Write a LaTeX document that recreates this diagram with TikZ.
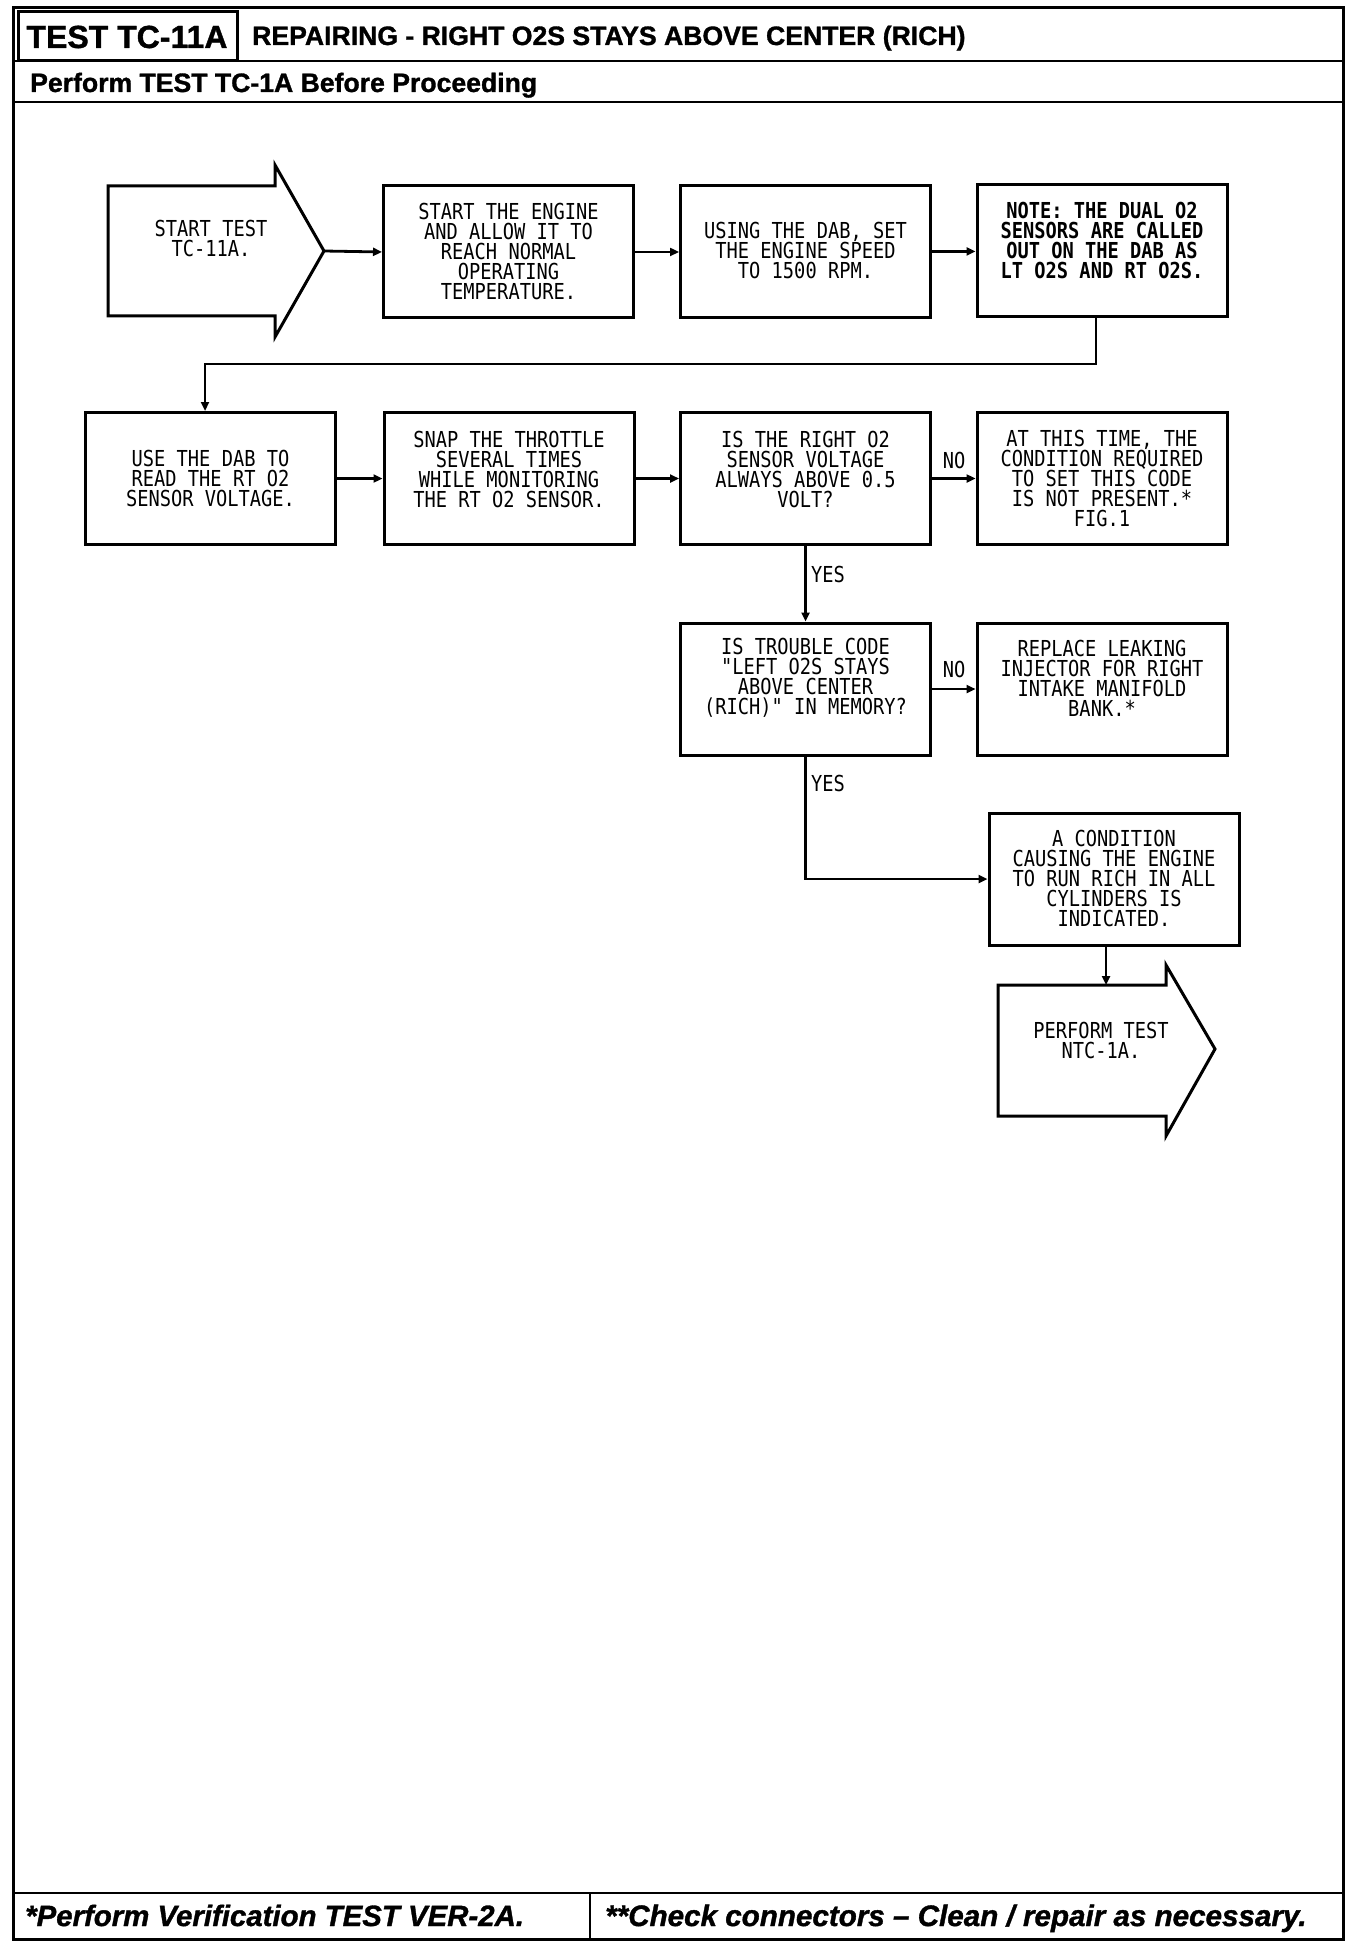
\documentclass[tikz,border=0pt]{standalone}
\usepackage{fontspec}
\setmainfont{Liberation Sans}
\newfontfamily\hdrfont[FakeBold=1.2]{Liberation Sans Bold}
\newfontfamily\hdrit[FakeBold=1.2]{Liberation Sans Bold Italic}
\newfontfamily\plotfont[FakeStretch=0.85]{DejaVu Sans Mono}
\usetikzlibrary{arrows.meta}
\begin{document}
\begin{tikzpicture}[x=1pt,y=-1pt,
  box/.style={draw, line width=3pt, minimum width=250pt, minimum height=132pt, inner sep=0pt},
  txt/.style={font=\plotfont\fontsize{22}{20}\selectfont, align=center, inner sep=0pt},
  lbl/.style={font=\plotfont\fontsize{22}{20}\selectfont, inner sep=0pt},
  conn/.style={line width=2.8pt, -{Triangle[length=9pt,width=8pt]}},
  wire/.style={line width=2.8pt},
  frame/.style={line width=3pt},
  hdr/.style={inner sep=0pt, anchor=base west}]
\useasboundingbox (0,0) rectangle (1360,1950);
% frame and header
\draw[frame] (13,8) rectangle (1343,1939);
\draw[frame] (18,12) rectangle (237,61);
\draw[wire] (13,61) -- (1343,61);
\draw[wire] (13,102) -- (1343,102);
\draw[wire] (13,1893) -- (1343,1893);
\draw[wire] (590,1893) -- (590,1939);
\node[inner sep=0pt, anchor=base, font=\hdrfont\fontsize{32}{32}\selectfont] (ttl) at (127,48) {TEST TC-11A};
\node[hdr, font=\hdrfont\fontsize{26.6}{27}\selectfont] (sub) at (252,45) {REPAIRING - RIGHT O2S STAYS ABOVE CENTER (RICH)};
\node[hdr, font=\hdrfont\fontsize{26.6}{27}\selectfont] (pre) at (30,92) {Perform TEST TC-1A Before Proceeding};
\node[hdr, font=\hdrit\fontsize{29.4}{30}\selectfont] (f1) at (25,1926) {*Perform Verification TEST VER-2A.};
\node[hdr, font=\hdrit\fontsize{29.6}{30}\selectfont] (f2) at (605,1926) {**Check connectors – Clean / repair as necessary.};
% start arrow
\draw[frame, line join=miter] (108,186) -- (275,186) -- (275,165) -- (324,251) -- (275,337) -- (275,316) -- (108,316) -- cycle;
\coordinate (stip) at (324,251);
\node[txt] (tstart) at (211,238) {START TEST\\TC-11A.};
% row 1
\node[box] (b2) at (508.5,252) {};
\node[txt] (t2) at (508.5,251) {START THE ENGINE\\AND ALLOW IT TO\\REACH NORMAL\\OPERATING\\TEMPERATURE.};
\node[box] (b3) at (805.5,252) {};
\node[txt] (t3) at (805.5,250) {USING THE DAB, SET\\THE ENGINE SPEED\\TO 1500 RPM.};
\node[box] (b4) at (1102,251) {};
\node[txt, font=\plotfont\bfseries\fontsize{22}{20}\selectfont] (t4) at (1102,240) {NOTE: THE DUAL O2\\SENSORS ARE CALLED\\OUT ON THE DAB AS\\LT O2S AND RT O2S.};
% row 2
\node[box] (b5) at (210.5,478.5) {};
\node[txt] (t5) at (210.5,478) {USE THE DAB TO\\READ THE RT O2\\SENSOR VOLTAGE.};
\node[box] (b6) at (509,478.5) {};
\node[txt] (t6) at (509,469) {SNAP THE THROTTLE\\SEVERAL TIMES\\WHILE MONITORING\\THE RT O2 SENSOR.};
\node[box] (b7) at (805.5,478.5) {};
\node[txt] (t7) at (805.5,469) {IS THE RIGHT O2\\SENSOR VOLTAGE\\ALWAYS ABOVE 0.5\\VOLT?};
\node[box] (b8) at (1102,478.5) {};
\node[txt] (t8) at (1102,478) {AT THIS TIME, THE\\CONDITION REQUIRED\\TO SET THIS CODE\\IS NOT PRESENT.*\\FIG.1};
% row 3
\node[box] (b9) at (805.5,689) {};
\node[txt] (t9) at (805.5,678) {IS TROUBLE CODE\\"LEFT O2S STAYS\\ABOVE CENTER\\(RICH)" IN MEMORY?};
\node[box] (b10) at (1102,689) {};
\node[txt] (t10) at (1102,678) {REPLACE LEAKING\\INJECTOR FOR RIGHT\\INTAKE MANIFOLD\\BANK.*};
\node[box] (b11) at (1114,879) {};
\node[txt] (t11) at (1114,878) {A CONDITION\\CAUSING THE ENGINE\\TO RUN RICH IN ALL\\CYLINDERS IS\\INDICATED.};
% end arrow
\draw[frame, line join=miter] (998,985) -- (1166,985) -- (1166,965) -- (1215,1049) -- (1166,1136) -- (1166,1116) -- (998,1116) -- cycle;
\coordinate (etop) at (1106,985);
\node[txt] (tend) at (1101,1040) {PERFORM TEST\\NTC-1A.};
% connectors
\draw[conn] (stip) -- (b2.west);
\draw[conn] (b2) -- (b3);
\draw[conn] (b3) -- (b4);
\coordinate (d1) at (1096,364);
\coordinate (d2) at (205,364);
\draw[conn] (d1 |- b4.south) -- (d1) -- (d2) -- (d2 |- b5.north);
\draw[conn] (b5) -- (b6);
\draw[conn] (b6) -- (b7);
\draw[conn] (b7) -- (b8);
\draw[conn] (b7) -- (b9);
\draw[conn] (b9) -- (b10);
\draw[conn] (b9.south) |- (b11.west);
\draw[conn] (etop |- b11.south) -- (etop);
% labels
\node[lbl] (no1) at (954,460) {NO};
\node[lbl, anchor=west] (yes1) at (811,574) {YES};
\node[lbl] (no2) at (954,669) {NO};
\node[lbl, anchor=west] (yes2) at (811,783) {YES};
\end{tikzpicture}
\end{document}
